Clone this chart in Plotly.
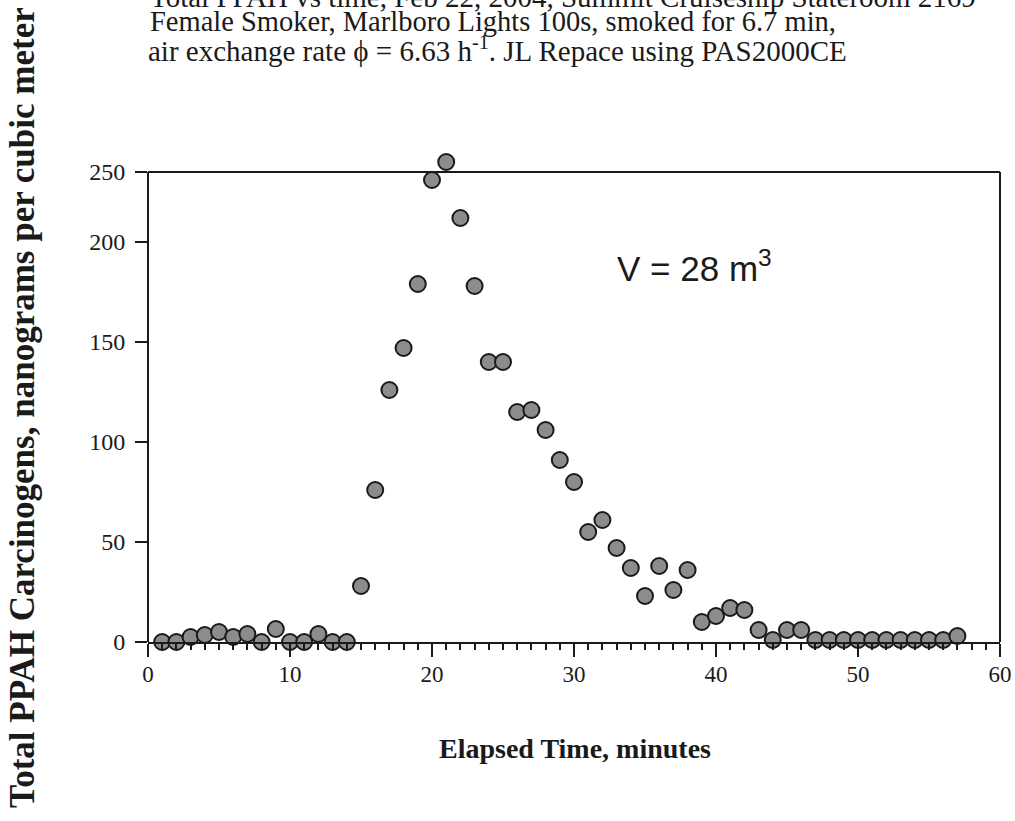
import plotly.graph_objects as go

minutes = list(range(1, 58))
ppah = [0, 0, 2.5, 3.5, 5, 2.5, 4, 0, 6.5, 0,
        0, 4, 0, 0, 28, 76, 126, 147, 179, 231,
        240, 212, 178, 140, 140, 115, 116, 106, 91, 80,
        55, 61, 47, 37, 23, 38, 26, 36, 10, 13,
        17, 16, 6, 1, 6, 6, 1, 1, 1, 1,
        1, 1, 1, 1, 1, 1, 3]

x_ticks = [0, 10, 20, 30, 40, 50, 60]
y_tickvals = [0, 50, 100, 150, 200, 235]
y_ticktext = ["0", "50", "100", "150", "200", "250"]
y_frame_top = 235

serif = "Liberation Serif, Times New Roman, serif"
ink = "#1a1a1a"

# plot area in pixels: x 148..1000, y 152..642 (frame drawn up to 172)
L, R, T, B = 148, 1000, 152, 642
W, H = R - L, B - T


def px(x):
    return (x - L) / W


def py(y):
    return (B - y) / H


fig = go.Figure()
fig.add_trace(go.Scatter(
    x=minutes, y=ppah, mode="markers", cliponaxis=False,
    marker=dict(size=16, color="#8c8c8c", line=dict(color=ink, width=2)),
    showlegend=False,
))

frame = dict(color=ink, width=2)
fig.add_shape(type="line", xref="paper", yref="y", x0=0, x1=1, y0=y_frame_top, y1=y_frame_top,
              line=frame, layer="below")
fig.add_shape(type="line", xref="paper", yref="y", x0=1, x1=1, y0=0, y1=y_frame_top,
              line=frame, layer="below")
fig.add_shape(type="line", xref="paper", yref="y", x0=0, x1=0, y0=0, y1=y_frame_top,
              line=frame, layer="below")

fig.update_layout(
    width=1015, height=821,
    margin=dict(l=L, r=1015 - R, t=T, b=821 - B),
    paper_bgcolor="white", plot_bgcolor="white",
    font=dict(family=serif, color=ink),
    xaxis=dict(
        range=[0, 60], tickvals=x_ticks, showgrid=False, zeroline=False, automargin=False,
        showline=True, linecolor=ink, linewidth=2, mirror=False,
        ticks="outside", ticklen=13, tickwidth=2, tickcolor=ink,
        minor=dict(dtick=1, ticks="outside", ticklen=6, tickwidth=1.5, tickcolor=ink),
        tickfont=dict(family=serif, size=23, color=ink),
        ticklabelstandoff=-3,
    ),
    yaxis=dict(
        range=[0, 245], tickvals=y_tickvals, ticktext=y_ticktext, showgrid=False, zeroline=False,
        automargin=False, showline=False,
        ticks="outside", ticklen=12, tickwidth=2, tickcolor=ink,
        tickfont=dict(family=serif, size=24, color=ink),
        ticklabelstandoff=5,
    ),
    annotations=[
        dict(text="<b>Total PPAH Carcinogens, nanograms per cubic meter</b>", xref="paper", yref="paper",
             x=px(22), y=py(408), xanchor="center", yanchor="middle", textangle=-90,
             showarrow=False, font=dict(family=serif, size=35, color=ink)),
        dict(text="<b>Elapsed Time, minutes</b>", xref="paper", yref="paper",
             x=px(575), y=py(748), xanchor="center", yanchor="middle",
             showarrow=False, font=dict(family=serif, size=28, color=ink)),
        dict(text="Total PPAH vs time, Feb 22, 2004, Summit Cruiseship Stateroom 2169", xref="paper", yref="paper",
             x=px(148), y=py(-3), xanchor="left", yanchor="middle",
             showarrow=False, font=dict(family=serif, size=29, color=ink)),
        dict(text="Female Smoker, Marlboro Lights 100s, smoked for 6.7 min,", xref="paper", yref="paper",
             x=px(148), y=py(22), xanchor="left", yanchor="middle",
             showarrow=False, font=dict(family=serif, size=28.5, color=ink)),
        dict(text="air exchange rate \u03d5 = 6.63 h<sup>-1</sup>. JL Repace using PAS2000CE", xref="paper", yref="paper",
             x=px(146), y=py(49), xanchor="left", yanchor="middle",
             showarrow=False, font=dict(family=serif, size=29, color=ink)),
        dict(text="V = 28 m<sup>3</sup>", xref="paper", yref="paper",
             x=px(615), y=py(266), xanchor="left", yanchor="middle",
             showarrow=False, font=dict(family="Liberation Sans, Arial, sans-serif", size=35, color=ink)),
    ],
)

fig.write_html("out.html", config={"displayModeBar": False},
               post_script="document.body.style.margin='0';")
